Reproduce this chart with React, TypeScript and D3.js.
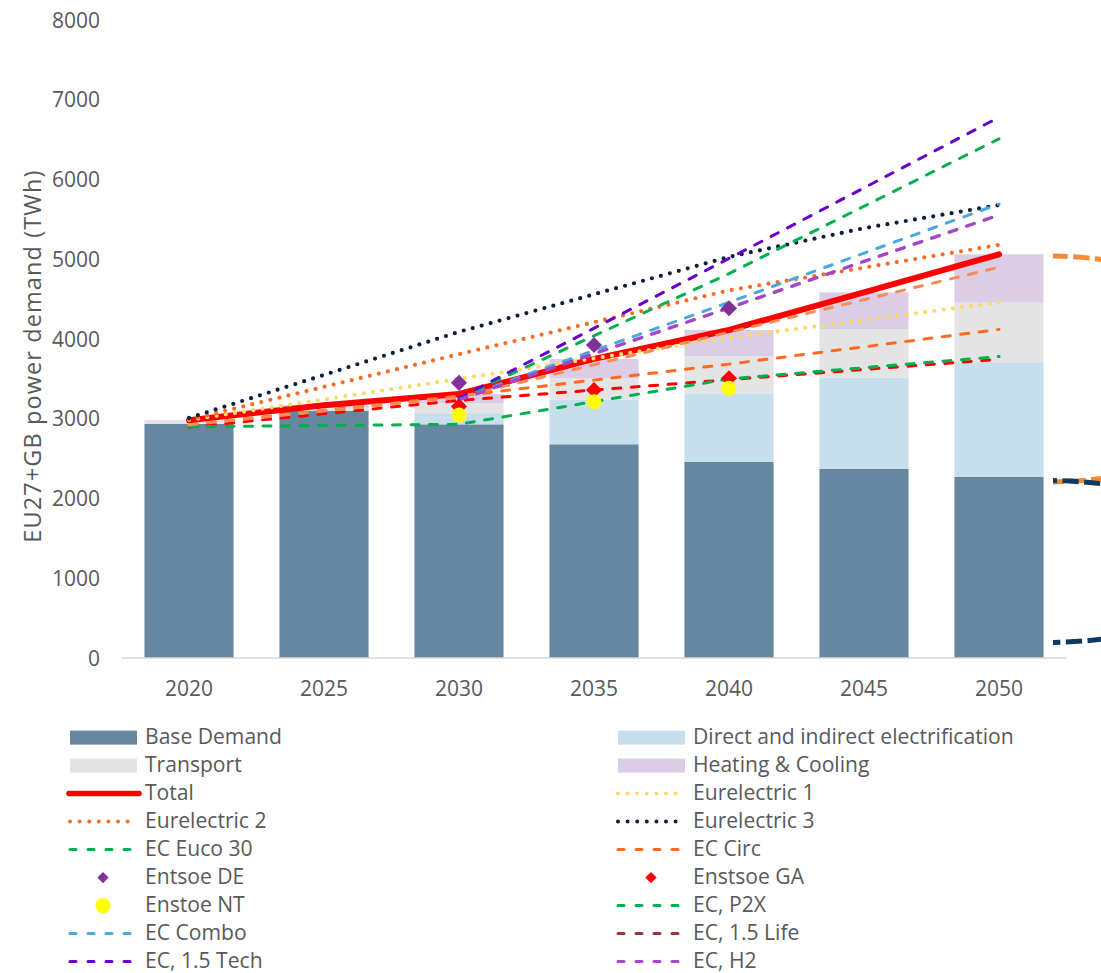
import React from "react";
import * as d3 from "d3";

// Years on the category axis
const years = [2020, 2025, 2030, 2035, 2040, 2045, 2050];
const yTicks = [0, 1000, 2000, 3000, 4000, 5000, 6000, 7000, 8000];

// Stacked demand components (TWh)
const baseDemand = [2935, 3100, 2930, 2680, 2458, 2370, 2273];
const electrification = [5, 15, 140, 560, 861, 1145, 1426];
const transport = [30, 25, 125, 265, 468, 610, 756];
const heatingCooling = [10, 30, 115, 245, 326, 460, 607];
const total = [2980, 3170, 3310, 3750, 4113, 4585, 5062];

// Scenario trajectories (null = no value for that year)
const eurelectric1 = [2985, null, 3500, null, 4015, null, 4460];
const eurelectric2 = [2990, null, 3810, null, 4610, null, 5180];
const eurelectric3 = [3010, 3550, 4090, 4560, 5030, 5390, 5680];
const ecEuco30 = [2900, null, 2930, null, 3500, null, 3780];
const ecCirc = [2925, null, 3285, null, 3685, null, 4120];
const ecOrangeLight = [2925, null, 3270, null, 4085, null, 4900];
const ecRedDashed = [2895, null, 3230, null, 3490, null, 3745];
const ecP2X = [null, null, 3260, null, 4820, null, 6510];
const ecCombo = [null, null, 3250, null, 4460, null, 5693];
const ec15Tech = [null, null, 3260, null, 5010, null, 6780];
const ecH2 = [null, null, 3240, null, 4390, null, 5555];

// TYNDP point estimates
const entsoeDE = [null, null, 3450, 3925, 4385, null, null];
const entsoeGA = [null, null, 3155, 3360, 3507, null, null];
const entsoeNT = [null, null, 3047, 3214, 3382, null, null];

const FONT = "'Open Sans', 'Noto Sans', sans-serif";
const TEXT = "#595959";

const C = {
  base: "#6787a1",
  elec: "#c7dfec",
  transport: "#e4e4e4",
  heating: "#dccde6",
  total: "#ff0000",
  eur1: "#ffd966",
  eur2: "#ff6a21",
  eur3: "#0c1f3a",
  euco: "#00b050",
  circ: "#ff6a21",
  orangeLight: "#f98c55",
  redDashed: "#ff0000",
  de: "#7f3297",
  ga: "#ff0000",
  nt: "#ffff00",
  p2x: "#00b050",
  combo: "#4aa8dc",
  life: "#953735",
  tech: "#6600cc",
  h2: "#a546c8",
};

const DOT = { dash: "0 9.3", width: 4.2, cap: "round" as const };
const DASH = { dash: "8 10.5", width: 3, cap: "round" as const };

type LineSpec = {
  key: string;
  values: (number | null)[];
  color: string;
  dash?: string;
  width: number;
  cap: "round" | "butt";
};

const lineSeries: LineSpec[] = [
  { key: "total", values: total, color: C.total, width: 6, cap: "round" },
  { key: "eur1", values: eurelectric1, color: C.eur1, ...DOT },
  { key: "eur2", values: eurelectric2, color: C.eur2, ...DOT },
  { key: "eur3", values: eurelectric3, color: C.eur3, ...DOT },
  { key: "redDashed", values: ecRedDashed, color: C.redDashed, ...DASH },
  { key: "euco", values: ecEuco30, color: C.euco, ...DASH },
  { key: "circ", values: ecCirc, color: C.circ, ...DASH },
  { key: "orangeLight", values: ecOrangeLight, color: C.orangeLight, ...DASH },
  { key: "p2x", values: ecP2X, color: C.p2x, ...DASH },
  { key: "combo", values: ecCombo, color: C.combo, ...DASH },
  { key: "tech", values: ec15Tech, color: C.tech, ...DASH },
  { key: "h2", values: ecH2, color: C.h2, ...DASH, width: 3.4 },
];

type LegendItem = {
  label: string;
  kind: "rect" | "line" | "diamond" | "circle";
  color: string;
  dash?: string;
  width?: number;
};

const legendItems: LegendItem[] = [
  { label: "Base Demand", kind: "rect", color: C.base },
  { label: "Direct and indirect electrification", kind: "rect", color: C.elec },
  { label: "Transport", kind: "rect", color: C.transport },
  { label: "Heating & Cooling", kind: "rect", color: C.heating },
  { label: "Total", kind: "line", color: C.total, width: 5.5 },
  { label: "Eurelectric 1", kind: "line", color: C.eur1, dash: "0 9.6", width: 4 },
  { label: "Eurelectric 2", kind: "line", color: C.eur2, dash: "0 9.6", width: 4 },
  { label: "Eurelectric 3", kind: "line", color: C.eur3, dash: "0 9.6", width: 4 },
  { label: "EC Euco 30", kind: "line", color: C.euco, dash: "6 12", width: 3 },
  { label: "EC Circ", kind: "line", color: C.circ, dash: "6 12", width: 3 },
  { label: "Entsoe DE", kind: "diamond", color: C.de },
  { label: "Enstsoe GA", kind: "diamond", color: C.ga },
  { label: "Enstoe NT", kind: "circle", color: C.nt },
  { label: "EC, P2X", kind: "line", color: C.p2x, dash: "6 12", width: 3 },
  { label: "EC Combo", kind: "line", color: C.combo, dash: "6 12", width: 3 },
  { label: "EC, 1.5 Life", kind: "line", color: C.life, dash: "6 12", width: 3 },
  { label: "EC, 1.5 Tech", kind: "line", color: C.tech, dash: "6 12", width: 3 },
  { label: "EC, H2", kind: "line", color: C.h2, dash: "6 12", width: 3 },
];

const W = 1101;
const H = 973;

export default function App() {
  const x = d3
    .scalePoint<number>()
    .domain(years)
    .range([121.5, 1066.5])
    .padding(0.5);
  const y = d3.scaleLinear().domain([0, 8000]).range([658, 20]);
  const barW = x.step() * 0.66;

  const stackData = years.map((yr, i) => ({
    year: yr,
    base: baseDemand[i],
    elec: electrification[i],
    transport: transport[i],
    heating: heatingCooling[i],
  }));
  const stack = d3
    .stack<any>()
    .keys(["base", "elec", "transport", "heating"])(stackData);
  const stackColors: Record<string, string> = {
    base: C.base,
    elec: C.elec,
    transport: C.transport,
    heating: C.heating,
  };

  const lineGen = d3
    .line<{ yr: number; v: number }>()
    .x((d) => x(d.yr) as number)
    .y((d) => y(d.v));

  const pts = (vals: (number | null)[]) =>
    years
      .map((yr, i) => ({ yr, v: vals[i] as number }))
      .filter((d) => d.v !== null && d.v !== undefined);

  const diamond = d3.symbol().type(d3.symbolDiamond2).size(165)();
  const legendDiamond = d3.symbol().type(d3.symbolDiamond2).size(82)();

  // Highlight rings that continue past the plot on the right
  const ringClip = "ring-clip";

  return (
    <svg
      width={W}
      height={H}
      style={{ position: "absolute", left: 0, top: 0, background: "#fff" }}
      fontFamily={FONT}
    >
      <defs>
        <clipPath id={ringClip}>
          <rect x={1053} y={0} width={W - 1053} height={H} />
        </clipPath>
      </defs>
      <rect x={0} y={0} width={W} height={H} fill="#fff" />

      {/* y tick labels */}
      {yTicks.map((t) => (
        <text
          key={t}
          x={100}
          y={y(t)}
          dy="0.36em"
          textAnchor="end"
          fontSize={21}
          fill={TEXT}
        >
          {t}
        </text>
      ))}

      {/* y axis title */}
      <text
        transform={`translate(33, 356) rotate(-90)`}
        textAnchor="middle"
        dy="0.35em"
        fontSize={23.5}
        letterSpacing={1.1}
        fill={TEXT}
      >
        EU27+GB power demand (TWh)
      </text>

      {/* stacked bars */}
      {stack.map((layer) => (
        <g key={layer.key} fill={stackColors[layer.key]}>
          {layer.map((d, i) => (
            <rect
              key={i}
              x={(x(years[i]) as number) - barW / 2}
              y={y(d[1])}
              width={barW}
              height={Math.max(0, y(d[0]) - y(d[1]))}
            />
          ))}
        </g>
      ))}

      {/* category axis */}
      <line
        x1={121.5}
        x2={1066.5}
        y1={y(0)}
        y2={y(0)}
        stroke="#d9d9d9"
        strokeWidth={1.5}
      />
      {years.map((yr) => (
        <text
          key={yr}
          x={x(yr)}
          y={696}
          textAnchor="middle"
          fontSize={21}
          fill={TEXT}
        >
          {yr}
        </text>
      ))}

      {/* scenario lines */}
      {lineSeries.map((s) => (
        <path
          key={s.key}
          d={lineGen(pts(s.values)) || ""}
          fill="none"
          stroke={s.color}
          strokeWidth={s.width}
          strokeDasharray={s.dash}
          strokeLinecap={s.cap}
          strokeLinejoin="round"
        />
      ))}

      {/* point estimates */}
      {pts(entsoeDE).map((d) => (
        <path
          key={"de" + d.yr}
          d={diamond || ""}
          transform={`translate(${x(d.yr)}, ${y(d.v)})`}
          fill={C.de}
        />
      ))}
      {pts(entsoeGA).map((d) => (
        <path
          key={"ga" + d.yr}
          d={diamond || ""}
          transform={`translate(${x(d.yr)}, ${y(d.v)})`}
          fill={C.ga}
        />
      ))}
      {pts(entsoeNT).map((d) => (
        <circle
          key={"nt" + d.yr}
          cx={x(d.yr)}
          cy={y(d.v)}
          r={7.5}
          fill={C.nt}
        />
      ))}

      {/* highlight rings */}
      <g clipPath={`url(#${ringClip})`} fill="none" strokeWidth={5}>
        <ellipse
          cx={1045}
          cy={369}
          rx={230}
          ry={113}
          stroke="#f68b33"
          strokeDasharray="16 5.5"
        />
        <ellipse
          cx={1045}
          cy={561.5}
          rx={200}
          ry={81}
          stroke="#0e3a62"
          strokeDasharray="16 5.5"
        />
      </g>

      {/* legend */}
      {legendItems.map((item, i) => {
        const col = i % 2;
        const row = Math.floor(i / 2);
        const sx = col === 0 ? 70 : 618;
        const tx = col === 0 ? 145 : 693;
        const cy = 737.6 + row * 28;
        const mid = sx + 33;
        let sym: React.ReactNode = null;
        if (item.kind === "rect") {
          sym = (
            <rect x={sx} y={cy - 7} width={67} height={14} fill={item.color} />
          );
        } else if (item.kind === "line") {
          const isTotal = item.label === "Total";
          sym = (
            <line
              x1={isTotal ? sx - 1 : sx}
              x2={isTotal ? sx + 69 : sx + 65}
              y1={cy}
              y2={cy}
              stroke={item.color}
              strokeWidth={item.width}
              strokeDasharray={item.dash}
              strokeLinecap="round"
            />
          );
        } else if (item.kind === "diamond") {
          sym = (
            <path
              d={legendDiamond || ""}
              transform={`translate(${mid}, ${cy})`}
              fill={item.color}
            />
          );
        } else {
          sym = <circle cx={mid} cy={cy} r={7.5} fill={item.color} />;
        }
        return (
          <g key={item.label}>
            {sym}
            <text x={tx} y={cy + 6.6} fontSize={21.1} fill={TEXT}>
              {item.label}
            </text>
          </g>
        );
      })}
    </svg>
  );
}
